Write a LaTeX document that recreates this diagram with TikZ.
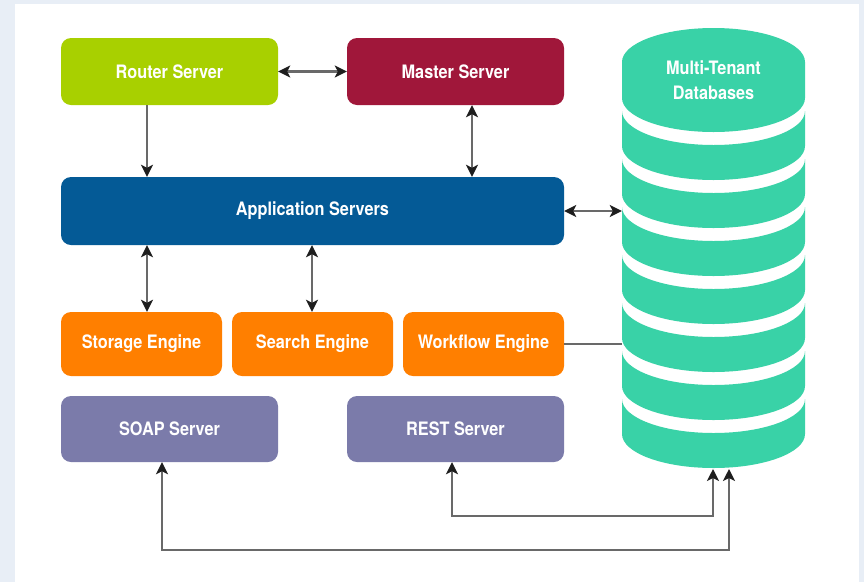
\documentclass[tikz,border=0pt]{standalone}
\usepackage{fontspec}
\setmainfont{TeX Gyre Heros}[FakeStretch=0.88]
\usetikzlibrary{arrows.meta}
\definecolor{bgout}{RGB}{232,238,246}
\definecolor{limec}{RGB}{168,208,0}
\definecolor{crimsonc}{RGB}{160,23,58}
\definecolor{bluec}{RGB}{4,90,150}
\definecolor{orangec}{RGB}{255,127,0}
\definecolor{purplec}{RGB}{123,123,170}
\definecolor{tealc}{RGB}{57,210,167}
\definecolor{linec}{RGB}{105,105,105}
\definecolor{tipc}{RGB}{30,30,30}
\tikzset{
  box/.style={rounded corners=10pt, inner sep=0pt, text=white,
    font=\fontsize{18.5}{22}\selectfont\bfseries},
  conn/.style={draw=linec, line width=2.2pt},
  arr/.style={conn, -{Stealth[length=12pt,width=12pt,inset=3pt,color=tipc]}},
  darr/.style={conn, {Stealth[length=12pt,width=12pt,inset=3pt,color=tipc]}-{Stealth[length=12pt,width=12pt,inset=3pt,color=tipc]}},
  band/.style={fill=tealc, draw=none}
}
\begin{document}
\begin{tikzpicture}[x=1pt,y=-1pt]
\useasboundingbox (0,0) rectangle (864,582);
\fill[bgout] (0,0) rectangle (864,582);
\fill[white] (15,4) rectangle (859,582);

% boxes
\node[box, fill=limec, minimum width=217pt, minimum height=67pt] (router) at (169.5,71.5) {Router Server};
\node[box, fill=crimsonc, minimum width=217pt, minimum height=67pt] (master) at (455.5,71.5) {Master Server};
\node[box, fill=bluec, minimum width=503pt, minimum height=68pt] (app) at (312.5,211) {Application Servers};
\node[box, fill=orangec, minimum width=161pt, minimum height=64pt] (storage) at (141.5,344) {Storage Engine};
\node[box, fill=orangec, minimum width=161pt, minimum height=64pt] (search) at (312.5,344) {Search Engine};
\node[box, fill=orangec, minimum width=161pt, minimum height=64pt] (workflow) at (483.5,344) {Workflow Engine};
\node[box, fill=purplec, minimum width=217pt, minimum height=66pt] (soap) at (169.5,429) {SOAP Server};
\node[box, fill=purplec, minimum width=217pt, minimum height=66pt] (rest) at (455.5,429) {REST Server};

% database stack
\fill[band] (622,62) arc[start angle=180,end angle=0,x radius=91.5pt,y radius=34pt]
  -- (805,98) arc[start angle=0,end angle=-180,x radius=91.5pt,y radius=34pt] -- cycle;
\foreach \k in {0,...,6}{
  \pgfmathsetmacro{\ya}{111+48*\k}
  \pgfmathsetmacro{\yb}{146+48*\k}
  \fill[band] (622,\ya) arc[start angle=180,end angle=360,x radius=91.5pt,y radius=34pt]
    -- (805,\yb) arc[start angle=0,end angle=-180,x radius=91.5pt,y radius=34pt] -- cycle;
}
\node[minimum width=183pt, minimum height=440pt, inner sep=0pt] (db) at (713.5,248) {};
\node[text=white, align=center, font=\fontsize{18.5}{25}\selectfont\bfseries] (dbtext) at (713.5,80) {Multi-Tenant\\Databases};

% helper coordinates for connector x positions
\coordinate (x147) at (147,0);
\coordinate (x312) at (312,0);
\coordinate (x472) at (472,0);
\coordinate (x162) at (162,0);
\coordinate (x452) at (452,0);
\coordinate (x713) at (713,0);
\coordinate (x729) at (729,0);
\coordinate (y516) at (0,516);
\coordinate (y550) at (0,550);
\coordinate (dbbot) at (0,469);

% connectors
\draw[darr] (router.east) -- (master.west);
\draw[arr] (router.south -| x147) -- (app.north -| x147);
\draw[darr] (master.south -| x472) -- (app.north -| x472);
\draw[darr] (app.east) -- (app.east -| db.west);
\draw[darr] (app.south -| x147) -- (storage.north -| x147);
\draw[darr] (app.south -| x312) -- (search.north -| x312);
\draw[conn] (workflow.east) -- (workflow.east -| db.west);
\draw[darr] (rest.south -| x452) -- (y516 -| x452) -- (y516 -| x713) -- (dbbot -| x713);
\draw[darr] (soap.south -| x162) -- (y550 -| x162) -- (y550 -| x729) -- (dbbot -| x729);
\end{tikzpicture}
\end{document}
